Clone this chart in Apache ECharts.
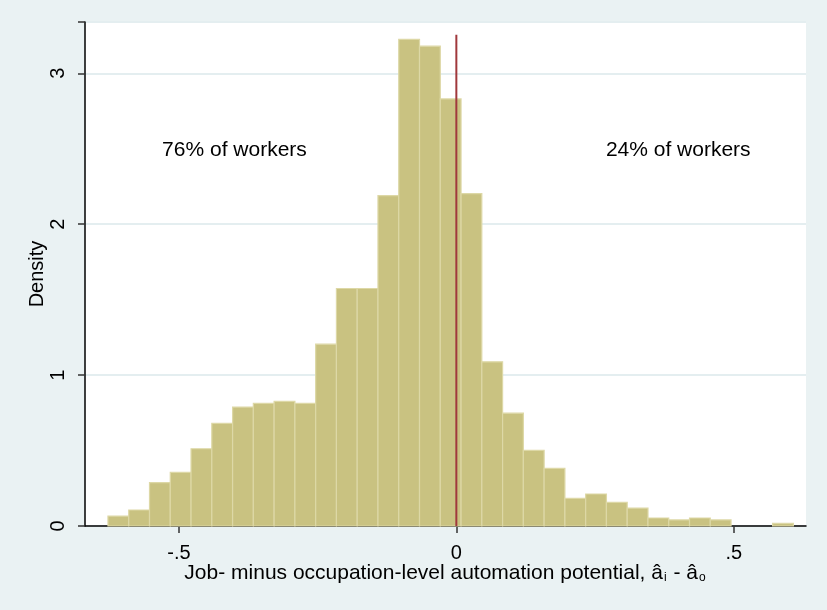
<!DOCTYPE html>
<html>
<head>
<meta charset="utf-8">
<script src="https://cdn.jsdelivr.net/npm/echarts@6/dist/echarts.min.js"></script>
<style>
  html, body { margin: 0; padding: 0; background: #eaf2f3; }
  #chart { width: 827px; height: 610px; }
</style>
</head>
<body>
<div id="chart"></div>
<script>
// Histogram of job- minus occupation-level automation potential
const binStart = -0.628;
const binWidth = 0.03744;
const density = [
  0.066, 0.106, 0.287, 0.356, 0.512, 0.680, 0.788, 0.812, 0.826, 0.812,
  1.205, 1.574, 1.574, 2.190, 3.225, 3.180, 2.830, 2.203, 1.088, 0.748,
  0.501, 0.382, 0.183, 0.212, 0.157, 0.119, 0.053, 0.040, 0.053, 0.040,
  0, 0, 0.018
];
const xTicks = [-0.5, 0, 0.5];
const xTickLabels = ['-.5', '0', '.5'];
const yTicks = [0, 1, 2, 3];
const refLineX = 0;
const refLineTop = 3.256;
const notes = [
  { x: -0.4, y: 2.49, text: '76% of workers' },
  { x: 0.4, y: 2.49, text: '24% of workers' }
];

const binData = density.map((d, i) => [binStart + i * binWidth, binStart + (i + 1) * binWidth, d]);

const FONT = '"Liberation Sans", Arial, sans-serif';
const chart = echarts.init(document.getElementById('chart'));

chart.setOption({
  backgroundColor: '#eaf2f3',
  animation: false,
  grid: {
    left: 85, right: 21, top: 22, bottom: 84,
    show: true, backgroundColor: '#ffffff', borderWidth: 0
  },
  xAxis: {
    type: 'value',
    min: -0.6694, max: 0.6303,
    name: 'Job- minus occupation-level automation potential, â{s|i} - â{s|o}',
    nameLocation: 'middle',
    nameGap: 37,
    nameMoveOverlap: false,
    nameTextStyle: {
      fontFamily: FONT, fontSize: 21, color: '#000',
      rich: { s: { fontFamily: FONT, fontSize: 12, color: '#000', padding: [9, 1, 0, 1] } }
    },
    axisLine: { show: true, onZero: false, lineStyle: { color: '#000', width: 1.5 } },
    axisTick: { show: true, length: 7, customValues: xTicks, lineStyle: { color: '#333', width: 1.5 } },
    axisLabel: {
      customValues: xTicks,
      formatter: v => xTickLabels[xTicks.indexOf(v)] ?? '',
      fontFamily: FONT, fontSize: 20, color: '#000', margin: 17
    },
    splitLine: { show: false }
  },
  yAxis: {
    type: 'value',
    min: 0, max: 3.34, interval: 1,
    name: 'Density',
    nameLocation: 'middle',
    nameGap: 38,
    nameMoveOverlap: false,
    nameRotate: 90,
    nameTextStyle: { fontFamily: FONT, fontSize: 20, color: '#000' },
    axisLine: { show: true, onZero: false, lineStyle: { color: '#000', width: 1.5 } },
    axisTick: { show: true, length: 7, lineStyle: { color: '#333', width: 1.5 } },
    axisLabel: {
      customValues: yTicks,
      rotate: 90,
      fontFamily: FONT, fontSize: 20, color: '#000', margin: 17
    },
    splitLine: { show: true, lineStyle: { color: '#e4eef0', width: 2 } }
  },
  series: [
    {
      type: 'custom',
      data: binData,
      encode: { x: [0, 1], y: 2 },
      renderItem: function (params, api) {
        const h = api.value(2);
        if (!h) return null;
        const p0 = api.coord([api.value(0), h]);
        const p1 = api.coord([api.value(1), 0]);
        return {
          type: 'rect',
          shape: { x: p0[0], y: p0[1], width: p1[0] - p0[0], height: p1[1] - p0[1] },
          style: { fill: '#c9c281', stroke: '#ddd8a6', lineWidth: 1.2 }
        };
      },
      z: 2
    },
    {
      type: 'line',
      data: [[refLineX, 0], [refLineX, refLineTop]],
      symbol: 'none',
      lineStyle: { color: '#a0383c', width: 2 },
      z: 3
    },
    {
      type: 'scatter',
      data: notes.map(n => ({ value: [n.x, n.y], name: n.text })),
      symbolSize: 1,
      itemStyle: { color: 'rgba(0,0,0,0)' },
      label: {
        show: true, position: 'inside',
        formatter: p => p.name,
        fontFamily: FONT, fontSize: 21, color: '#000',
        textBorderWidth: 0, opacity: 1
      },
      emphasis: { disabled: true },
      z: 4
    }
  ]
});
</script>
</body>
</html>
